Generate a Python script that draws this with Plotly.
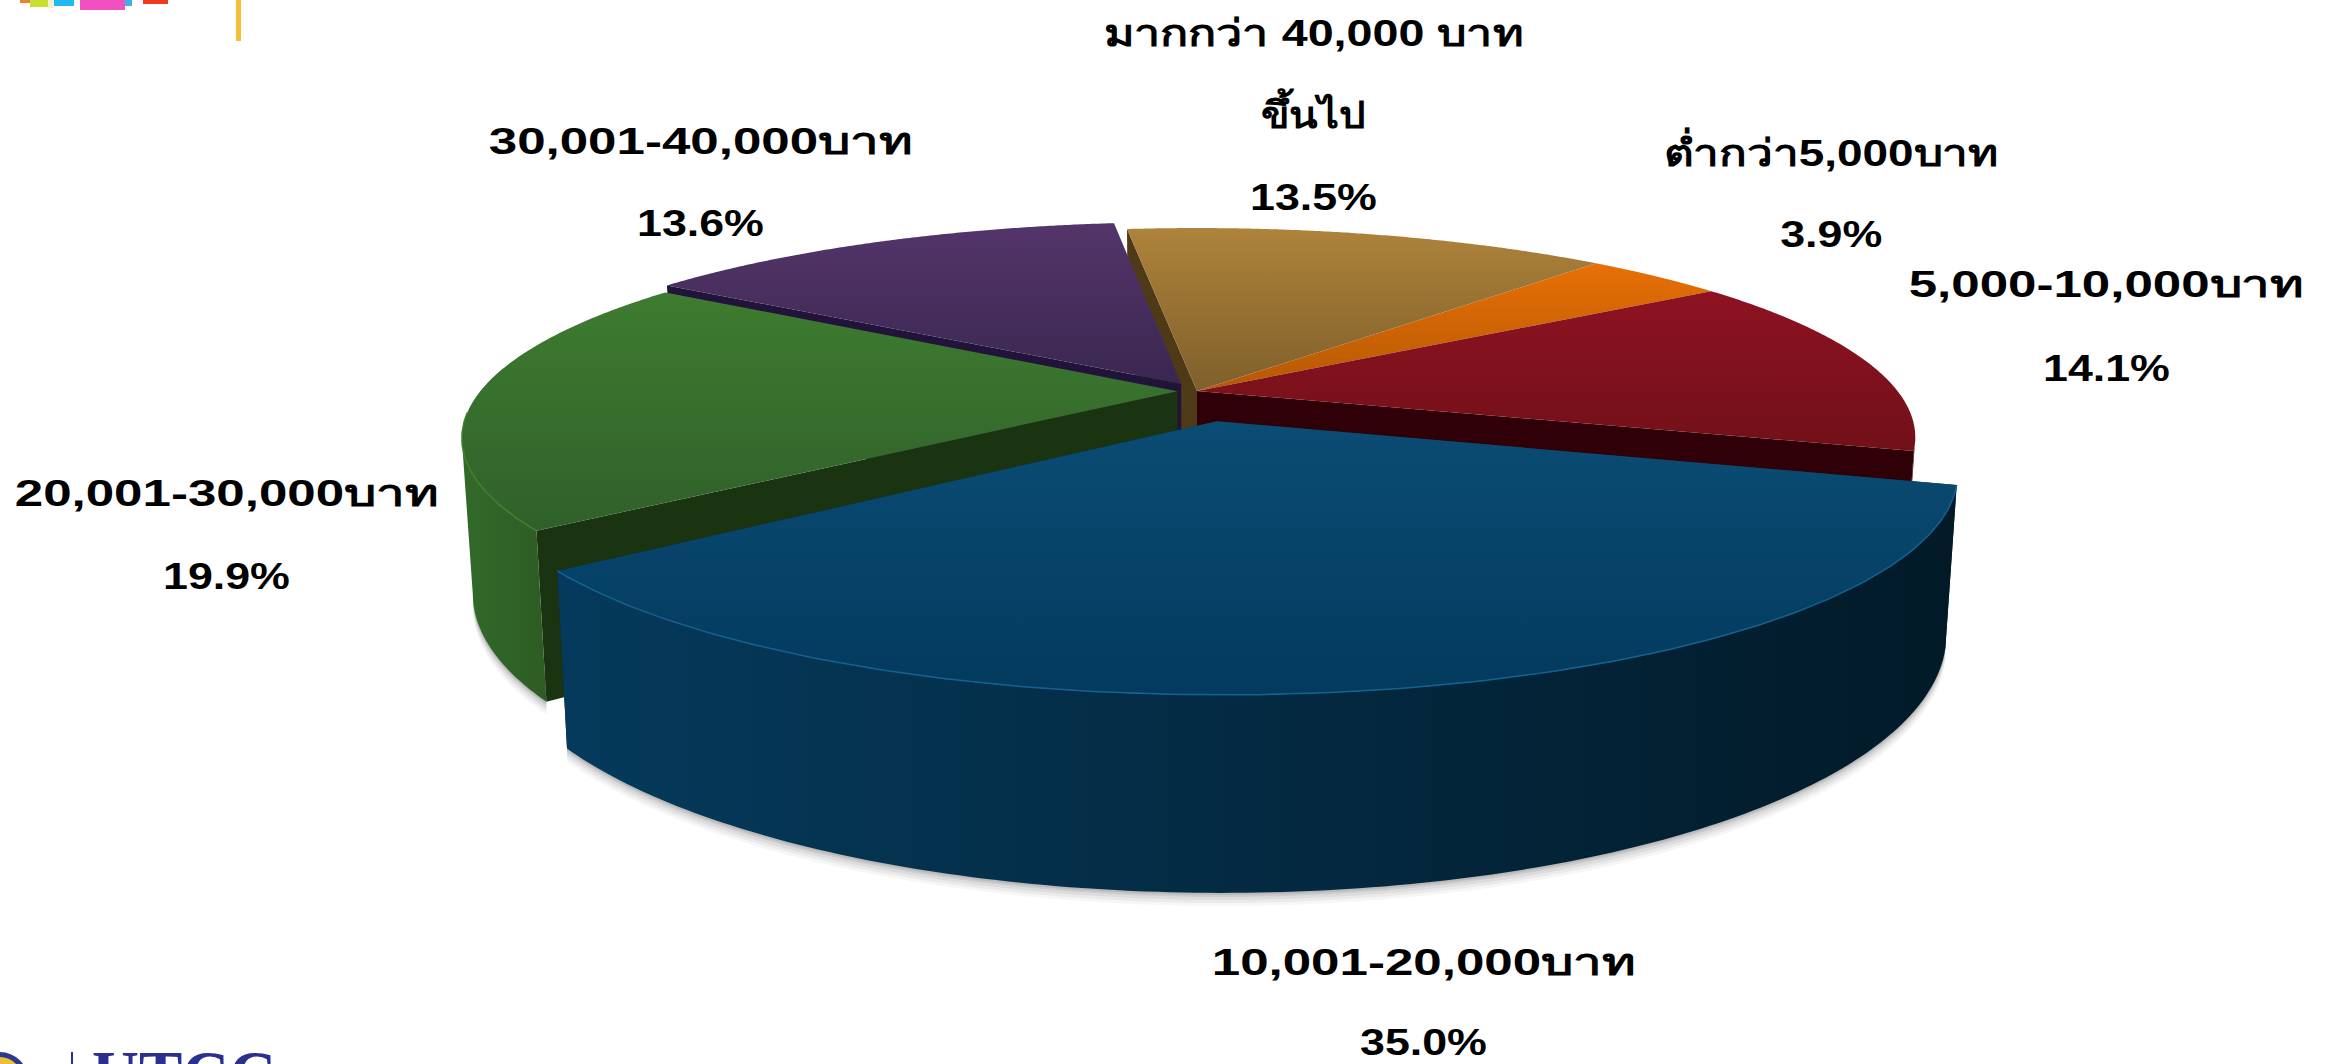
import json
import numpy as np
import plotly.graph_objects as go

# ---------- data ----------
categories = ["มากกว่า 40,000 บาท|ขึ้นไป", "ต่ำกว่า5,000บาท", "5,000-10,000บาท",
              "10,001-20,000บาท", "20,001-30,000บาท", "30,001-40,000บาท"]
values = [13.5, 3.9, 14.1, 35.0, 19.9, 13.6]
value_labels = ["13.5%", "3.9%", "14.1%", "35.0%", "19.9%", "13.6%"]

# ---------- styling ----------
top_colors = [("#AE833B", "#7F5F2B"), ("#E87006", "#B55804"), ("#8E1222", "#721018"),
              ("#0B4C74", "#033A5E"), ("#3E7C30", "#30602A"), ("#54356A", "#3A2750")]
radial_colors = ["#4E3A17", "#7A3B02", "#300008", "#03283F", "#1A3310", "#21133A"]
outer_colors = [None, None, ("#300008", "#300008"),
                ("#053A5C", "#021A28"), ("#326A2A", "#2E5C24"), None]
explode = [0.0, 0.0, 0.0, 0.15, 0.028, 0.044]
radius = [1.005, 1.005, 1.005, 1.0, 1.0, 1.012]
label_pos = [(1313, 33, 197), (1831, 150, 234), (2106, 284, 368),
             (1423, 962, 1042), (226, 493, 576), (700, 141, 223)]
name_stretch = [1.26, 1.24, 1.38, 1.38, 1.38, 1.38]
value_stretch = [1.21, 1.21, 1.21, 1.21, 1.21, 1.21]

W, H = 2334, 1064
CX, CY, R, RY, K, DEPTH = 1197, 391, 697, 198, 0.22, 148
START_DEG = -7
SHRINK = 0.985


def project(u, v, bottom=False):
    s = 1 / (1 - K * v)
    x = CX + R * u * s
    y = CY + RY * v * s
    if bottom:
        x = CX + (x - CX) * SHRINK
        y = y + DEPTH * s
    return x, y


fig = go.Figure()


def poly(x, y, c1, c2=None, gradient="vertical", op=1.0):
    kw = dict(fillcolor=c1) if c2 is None or c1 == c2 else dict(
        fillgradient=dict(type=gradient, colorscale=[[0, c1], [1, c2]]))
    fig.add_trace(go.Scatter(x=list(x), y=list(y), mode="lines", fill="toself",
                             line=dict(width=0, simplify=False), opacity=op, hoverinfo="skip",
                             showlegend=False, **kw))


# slice geometry derived from the values
fracs = np.array(values) / sum(values)
edges = np.radians(START_DEG + 360 * np.concatenate([[0], np.cumsum(fracs)]))
geo = []
for i in range(len(values)):
    a0, a1 = edges[i], edges[i + 1]
    mid = (a0 + a1) / 2
    ou, ov = explode[i] * np.sin(mid), -explode[i] * np.cos(mid)
    th = np.linspace(a0, a1, 160)
    geo.append((a0, a1, ou, ov, th, ou + radius[i] * np.sin(th), ov - radius[i] * np.cos(th)))

# soft ground shadow
for off, op in [(13, 0.05), (10, 0.07), (7, 0.09), (4, 0.12), (2, 0.15)]:
    for i in [4, 3]:
        _, _, ou, ov, th, u, v = geo[i]
        keep = v > 0.25
        bx, by = project(u[keep], v[keep], True)
        poly(np.r_[bx, bx[::-1]], np.r_[by + off, by[::-1] - 30], "#555555", op=op)


def draw_walls(i):
    _, _, ou, ov, th, u, v = geo[i]
    ax, ay = project(ou, ov)
    abx, aby = project(ou, ov, True)
    tx, ty = project(u, v)
    bx, by = project(u, v, True)
    # radial walls: the one that faces the viewer for each slice
    visible_edge = {0: [0], 1: [], 2: [-1], 3: [0, -1], 4: [0], 5: [0]}[i]
    for j in visible_edge:
        poly([ax, tx[j], bx[j], abx], [ay, ty[j], by[j], aby], radial_colors[i])
    # outer wall: only the viewer-facing part of the rim
    if outer_colors[i]:
        if i == 4:
            rng = slice(0, int(np.argmin(tx)) + 1)
        elif i == 2:
            rng = slice(int(np.argmax(tx)), None)
        else:
            rng = slice(None)
        poly(np.r_[tx[rng], bx[rng][::-1]], np.r_[ty[rng], by[rng][::-1]],
             outer_colors[i][0], outer_colors[i][1], gradient="horizontal")


def draw_top(i):
    _, _, ou, ov, th, u, v = geo[i]
    ax, ay = project(ou, ov)
    tx, ty = project(u, v)
    # the y axis is reversed, so the gradient runs bottom colour first
    poly(np.r_[ax, tx], np.r_[ay, ty], top_colors[i][1], top_colors[i][0])
    if i in (3, 4):
        keep = v > 0.1
        fig.add_trace(go.Scatter(x=tx[keep], y=ty[keep], mode="lines", hoverinfo="skip", showlegend=False,
                                 line=dict(width=1.5, color="#15628F" if i == 3 else "#42802F")))


draw_walls(0)
for i in [5, 4, 1, 0, 2, 3]:
    if i != 0:
        draw_walls(i)
    draw_top(i)

# ---------- text ----------
FONT = "Liberation Sans, Noto Sans, DejaVu Sans, sans-serif"
tfont = dict(family=FONT, size=37, color="#000000", weight=700)
annos, stretch = [], []
for name, val, (x, y1, y2), ns, vs in zip(categories, value_labels, label_pos, name_stretch, value_stretch):
    annos.append(dict(x=x, y=y2, text=val, showarrow=False, font=tfont))
    stretch.append(vs)
    parts = name.split("|")
    annos.append(dict(x=x, y=y1, text=parts[0], showarrow=False, font=tfont))
    stretch.append(ns)
    if len(parts) > 1:
        annos.append(dict(x=x, y=112, text=parts[1], showarrow=False, font=tfont))
        stretch.append(1.13)
annos.append(dict(x=90, y=1036, text="UTCC", showarrow=False, xanchor="left", yanchor="top",
                  font=dict(family="Liberation Serif", size=65, color="#2B2F8F", weight=700)))
stretch.append(1.0)

# ---------- decorations at the page corners ----------
shapes = [dict(type="rect", x0=236, x1=241, y0=0, y1=41, fillcolor="#F5BF3A", line_width=0),
          dict(type="line", x0=72, x1=72, y0=1052, y1=1064, line=dict(color="#2B2F8F", width=2)),
          dict(type="circle", x0=-28, x1=28, y0=1052, y1=1108, fillcolor="#2B3A8F", line_width=0),
          dict(type="circle", x0=-22, x1=22, y0=1057, y1=1101, fillcolor="#EDBE3C", line_width=0)]
for x0, x1, y1, c in [(20, 30, 3, "#F08030"), (30, 48, 7, "#C8E030"), (48, 54, 8, "#F4F0D0"),
                      (54, 74, 6, "#20B8F0"), (80, 125, 10, "#F050C0"), (125, 132, 6, "#40B0E0"),
                      (143, 168, 4, "#F03A20")]:
    shapes.append(dict(type="rect", x0=x0, x1=x1, y0=0, y1=y1, fillcolor=c, line_width=0))

fig.update_layout(width=W, height=H, margin=dict(l=0, r=0, t=0, b=0), autosize=False,
                  paper_bgcolor="#FFFFFF", plot_bgcolor="#FFFFFF", showlegend=False,
                  xaxis=dict(range=[0, W], visible=False, fixedrange=True),
                  yaxis=dict(range=[H, 0], visible=False, fixedrange=True),
                  annotations=annos, shapes=shapes)

# widen the labels to the reference's stretched lettering (text stays real text)
post = ("document.body.style.margin='0';document.body.style.overflow='hidden';"
        "var st=" + json.dumps(stretch) + ";"
        "document.querySelectorAll('.annotation-text').forEach(function(t,i){"
        "var L=t.getComputedTextLength();"
        "t.setAttribute('textLength',L*st[i]);t.setAttribute('lengthAdjust','spacingAndGlyphs');});")
fig.write_html("out.html", config=dict(displayModeBar=False), post_script=post)
